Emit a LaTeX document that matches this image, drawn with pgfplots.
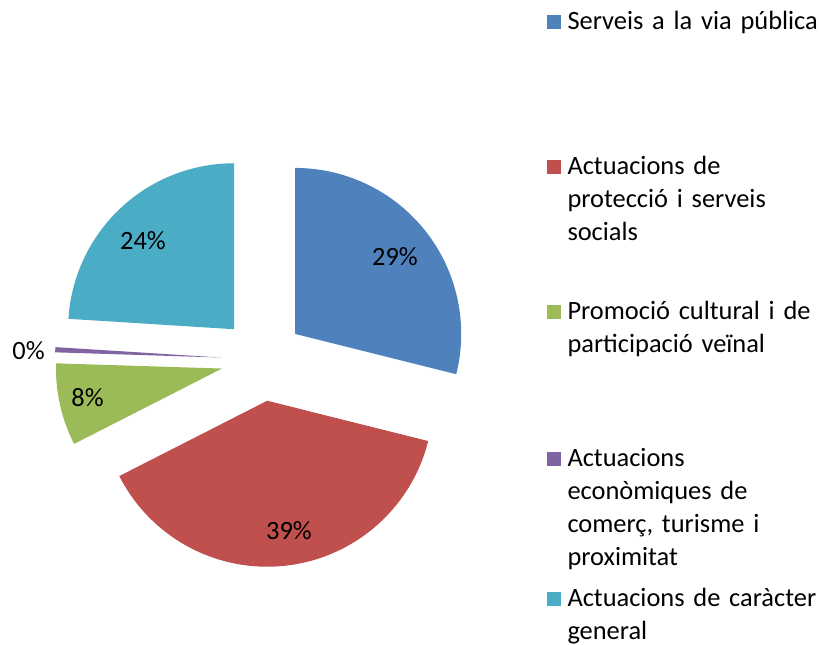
\documentclass[border=0pt]{standalone}
\usepackage{pgfplots}
\pgfplotsset{compat=1.18}
\usepackage{pgfplotstable}
\usepackage{fontspec}
\setmainfont{Carlito}
\definecolor{slice0}{HTML}{4F81BD}
\definecolor{slice1}{HTML}{C0504D}
\definecolor{slice2}{HTML}{9BBB59}
\definecolor{slice3}{HTML}{8064A2}
\definecolor{slice4}{HTML}{4BACC6}
\pgfplotstableread{
value
28.9
38.6
8.0
0.5
24.0
}\piedata
\def\Cx{262.5}\def\Cy{285.5}\def\dd{41.5}\def\R{166}
\begin{document}
\begin{tikzpicture}
\begin{axis}[name=ax, x=1pt, y=1pt, xmin=0, xmax=819, ymin=0, ymax=645,
  hide axis, clip=false,
  legend image code/.code={\fill[#1] (0pt,1pt) rectangle (14pt,15pt);},
  legend cell align=left,
  legend style={at={(0.6679,0.9907)}, anchor=north west, draw=none, fill=none,
    inner sep=0pt, outer sep=0pt, column sep=6.5pt, row sep=0pt,
    cells={anchor=base west},
    nodes={inner sep=0pt, outer sep=0pt, text depth=, text height=, text width=260pt, align=left,
      font=\fontsize{26.4}{33}\selectfont}},
]
\def\cum{0}
\pgfplotsforeachungrouped \i in {0,...,4}{%
  \pgfplotstablegetelem{\i}{value}\of\piedata
  \let\v\pgfplotsretval
  \pgfmathsetmacro\aS{90-3.6*\cum}%
  \pgfmathsetmacro\aE{90-3.6*(\cum+\v)}%
  \pgfmathsetmacro\aM{(\aS+\aE)/2}%
  \pgfmathsetmacro\Ax{\Cx+\dd*cos(\aM)}%
  \pgfmathsetmacro\Ay{\Cy+\dd*sin(\aM)}%
  \pgfmathsetmacro\cum{\cum+\v}%
  \edef\cmd{\noexpand\addplot[fill=slice\i, draw=none, domain=\aE:\aS, samples=90]
    ({\Ax+\R*cos(x)},{\Ay+\R*sin(x)}) -- (axis cs:\Ax,\Ay) -- cycle;}%
  \cmd
}
\addlegendentry{\rule{0pt}{24pt}Serveis a la via pública\rule[-121pt]{0pt}{121pt}}
\addlegendentry{\rule{0pt}{24pt}Actuacions de\\protecció i serveis\\socials\rule[-55pt]{0pt}{55pt}}
\addlegendentry{\rule{0pt}{24pt}Promoció cultural i de\\participació veïnal\rule[-90pt]{0pt}{90pt}}
\addlegendentry{\rule{0pt}{24pt}Actuacions\\econòmiques de\\comerç, turisme i\\proximitat\rule[-17pt]{0pt}{17pt}}
\addlegendentry{\rule{0pt}{24pt}Actuacions de caràcter\\general}
\begin{scope}[every node/.style={anchor=base, font=\fontsize{26.4}{30}\selectfont}]
\node at (axis cs:395,379) {29\%};
\node at (axis cs:289,105) {39\%};
\node at (axis cs:87.5,238) {8\%};
\node at (axis cs:28.5,285) {0\%};
\node at (axis cs:143,395) {24\%};
\end{scope}
\end{axis}
\pgfresetboundingbox
\path (ax.south west) rectangle (ax.north east);
\end{tikzpicture}
\end{document}
